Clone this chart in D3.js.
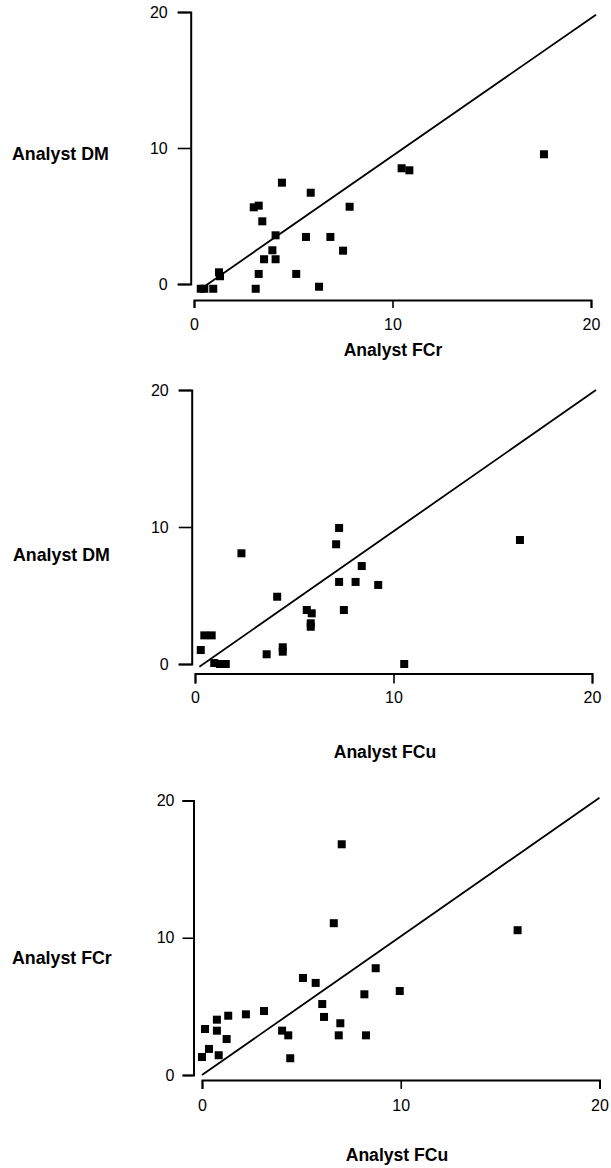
<!DOCTYPE html>
<html>
<head>
<meta charset="utf-8">
<script src="https://cdn.jsdelivr.net/npm/d3@7"></script>
<style>
  html, body { margin: 0; padding: 0; background: #fff; }
  svg { display: block; }
</style>
</head>
<body>
<div id="chart"></div>
<script>
// ---------- DATA ----------
const axisTicks = [0, 10, 20];
const xTitles = ["Analyst FCr", "Analyst FCu", "Analyst FCu"];
const yTitles = ["Analyst DM", "Analyst DM", "Analyst FCr"];

// Panel 1: Analyst FCr (x) vs Analyst DM (y)
const p1X = [0.34, 0.52, 0.97, 1.26, 1.31, 3.11, 3.01, 3.26, 3.44, 3.26, 3.53, 3.95, 4.11, 4.11, 4.43, 5.15, 5.64, 5.88, 6.30, 6.87, 7.51, 7.84, 10.46, 10.85, 17.63];
const p1Y = [-0.35, -0.35, -0.35, 0.86, 0.57, -0.35, 5.64, 5.76, 4.61, 0.74, 1.82, 2.48, 3.58, 1.82, 7.45, 0.74, 3.46, 6.71, -0.2, 3.46, 2.45, 5.68, 8.51, 8.36, 9.54];

// Panel 2: Analyst FCu (x) vs Analyst DM (y)
const p2X = [0.29, 0.47, 0.84, 0.97, 1.26, 1.55, 2.34, 3.61, 4.14, 4.42, 4.42, 5.63, 5.88, 5.83, 5.83, 7.11, 7.26, 7.26, 7.50, 8.09, 8.40, 9.23, 10.54, 16.37];
const p2Y = [1.02, 2.09, 2.09, 0.07, 0.0, 0.0, 8.08, 0.71, 4.91, 1.22, 0.9, 3.94, 3.70, 2.97, 2.72, 8.74, 9.93, 5.99, 3.94, 5.99, 7.15, 5.77, 0.0, 9.05];

// Panel 3: Analyst FCu (x) vs Analyst FCr (y)
const p3X = [0.0, 0.35, 0.15, 0.84, 0.75, 0.75, 1.24, 1.32, 2.21, 3.12, 4.03, 4.34, 4.44, 5.08, 5.72, 6.05, 6.14, 6.63, 6.96, 6.88, 7.03, 8.17, 8.25, 8.74, 9.95, 15.88];
const p3Y = [1.31, 1.90, 3.35, 1.44, 3.23, 4.03, 2.62, 4.32, 4.42, 4.66, 3.23, 2.89, 1.22, 7.07, 6.71, 5.17, 4.23, 11.06, 3.77, 2.89, 16.81, 5.88, 2.89, 7.78, 6.12, 10.55];

// Reference (identity) line endpoints per panel
const refLineX = [[0.45, 20.25], [0.22, 20.2], [0.0, 20.0]];
const refLineY = [[-0.25, 19.8], [-0.2, 20.0], [0.0, 20.2]];

// ---------- LAYOUT ----------
const W = 611, H = 1168;
const layout = [
  { x0: 194, x1: 591, y0: 284, y1: 12, yAxisX: 190.7, xAxisY: 300, yTickLen: 13, yPad: 10, xTickLen: 8,
    yTitle: [12, 159.5], xTitle: [393, 355.5], xTickLabelY: 324 },
  { x0: 195, x1: 592, y0: 664, y1: 390, yAxisX: 191.7, xAxisY: 673.5, yTickLen: 13, yPad: 10, xTickLen: 10,
    yTitle: [13, 561], xTitle: [385, 758], xTickLabelY: 697 },
  { x0: 202, x1: 599.5, y0: 1075, y1: 800.5, yAxisX: 193.5, xAxisY: 1080, yTickLen: 11, yPad: 8, xTickLen: 9,
    yTitle: [12, 963.5], xTitle: [397, 1161], xTickLabelY: 1105 }
];

const seriesX = [p1X, p2X, p3X];
const seriesY = [p1Y, p2Y, p3Y];

const svg = d3.select("#chart").append("svg")
  .attr("width", W).attr("height", H)
  .attr("viewBox", `0 0 ${W} ${H}`);
svg.append("rect").attr("width", W).attr("height", H).attr("fill", "#fff");

const font = '"Liberation Sans", Arial, Helvetica, sans-serif';
const sq = 8;

layout.forEach((L, i) => {
  const x = d3.scaleLinear().domain([0, 20]).range([L.x0, L.x1]);
  const y = d3.scaleLinear().domain([0, 20]).range([L.y0, L.y1]);
  const g = svg.append("g");

  // Y axis
  const yAx = g.append("g")
    .attr("transform", `translate(${L.yAxisX},0)`)
    .call(d3.axisLeft(y).tickValues(axisTicks).tickFormat(d3.format("d"))
      .tickSize(L.yTickLen).tickPadding(L.yPad));
  yAx.attr("font-size", 16).attr("font-family", font);
  yAx.select(".domain").attr("stroke", "#000").attr("stroke-width", 2).attr("fill", "none");
  yAx.selectAll(".tick line").attr("stroke", "#000").attr("stroke-width", 1.6);
  yAx.selectAll(".tick text").attr("fill", "#000").style("font-size", "16px");

  // X axis
  const xAx = g.append("g")
    .attr("transform", `translate(0,${L.xAxisY})`)
    .call(d3.axisBottom(x).tickValues(axisTicks).tickFormat(d3.format("d"))
      .tickSize(L.xTickLen).tickPadding(0));
  xAx.attr("font-size", 16).attr("font-family", font);
  xAx.select(".domain").attr("stroke", "#000").attr("stroke-width", 2).attr("fill", "none");
  xAx.selectAll(".tick line").attr("stroke", "#000").attr("stroke-width", 1.6);
  xAx.selectAll(".tick text").attr("fill", "#000").style("font-size", "16px")
    .attr("dy", null)
    .attr("y", L.xTickLabelY - L.xAxisY)
    .attr("dominant-baseline", "central");

  // Reference line
  const lx = refLineX[i], ly = refLineY[i];
  g.append("line")
    .attr("x1", x(lx[0])).attr("y1", y(ly[0]))
    .attr("x2", x(lx[1])).attr("y2", y(ly[1]))
    .attr("stroke", "#000").attr("stroke-width", 1.8);

  // Points
  const pts = seriesX[i].map((v, k) => ({ x: v, y: seriesY[i][k] }));
  g.selectAll("rect.pt").data(pts).enter().append("rect")
    .attr("class", "pt")
    .attr("x", d => x(d.x) - sq / 2)
    .attr("y", d => y(d.y) - sq / 2)
    .attr("width", sq).attr("height", sq)
    .attr("fill", "#000");

  // Titles
  g.append("text")
    .attr("x", L.yTitle[0]).attr("y", L.yTitle[1])
    .attr("font-family", font).attr("font-weight", "bold").attr("font-size", 17.8)
    .attr("fill", "#000")
    .text(yTitles[i]);
  g.append("text")
    .attr("x", L.xTitle[0]).attr("y", L.xTitle[1])
    .attr("text-anchor", "middle")
    .attr("font-family", font).attr("font-weight", "bold").attr("font-size", 17.6)
    .attr("fill", "#000")
    .text(xTitles[i]);
});
</script>
</body>
</html>
